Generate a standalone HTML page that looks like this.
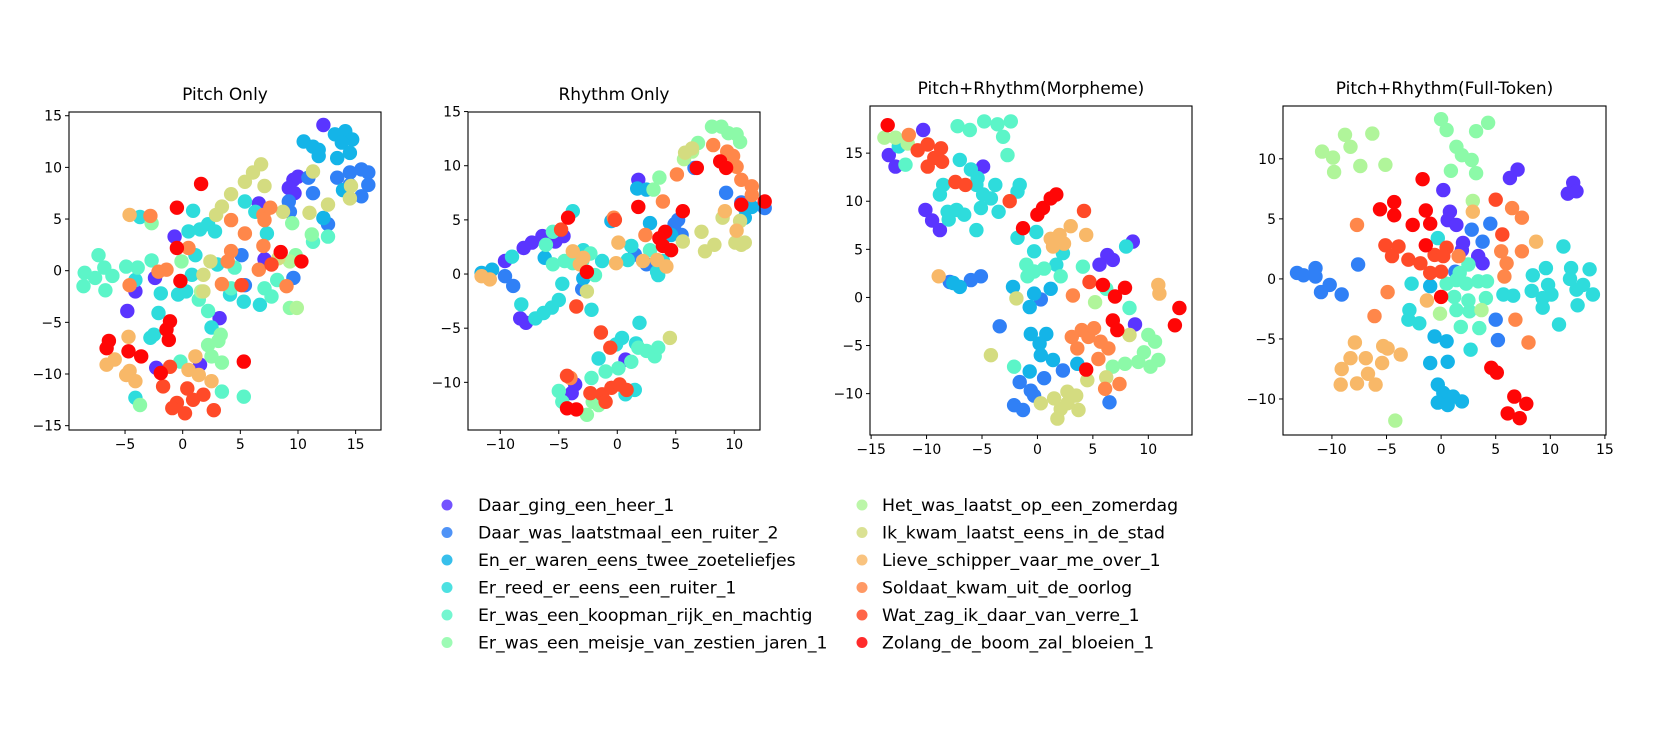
<!DOCTYPE html>
<html><head><meta charset="utf-8">
<style>
html,body{margin:0;padding:0;background:#fff;}
svg{display:block;font-family:"DejaVu Sans","Liberation Sans",sans-serif;}
</style></head>
<body>
<svg id="fig" width="1664" height="736" viewBox="0 0 1664 736" xmlns="http://www.w3.org/2000/svg"></svg>
<script>
const categories = ["Daar_ging_een_heer_1","Daar_was_laatstmaal_een_ruiter_2","En_er_waren_eens_twee_zoeteliefjes","Er_reed_er_eens_een_ruiter_1","Er_was_een_koopman_rijk_en_machtig","Er_was_een_meisje_van_zestien_jaren_1","Het_was_laatst_op_een_zomerdag","Ik_kwam_laatst_eens_in_de_stad","Lieve_schipper_vaar_me_over_1","Soldaat_kwam_uit_de_oorlog","Wat_zag_ik_daar_van_verre_1","Zolang_de_boom_zal_bloeien_1"];
const colors = ["#5a35ff","#3080f6","#14b4e8","#2edcdc","#5cf5c8","#8cfaa8","#b0f59a","#d4dc80","#f8b868","#ff874a","#ff4a28","#ff0606"];
const titles = ["Pitch Only","Rhythm Only","Pitch+Rhythm(Morpheme)","Pitch+Rhythm(Full-Token)"];
const xTicks = [[-5,0,5,10,15],[-10,-5,0,5,10],[-15,-10,-5,0,5,10],[-10,-5,0,5,10,15]];
const yTicks = [[-15,-10,-5,0,5,10,15],[-10,-5,0,5,10,15],[-10,-5,0,5,10,15],[-10,-5,0,5,10]];

const pitchOnly = [
 [[12.2,14.1],[9.6,8.8],[9.2,8.0],[9.7,7.5],[6.6,6.5],[-0.7,3.3],[-2.4,-0.7],[-4.1,-2.0],[-4.8,-3.9],[3.2,-4.6],[-2.3,-9.4],[1.5,-9.1],[7.1,1.1],[10.0,9.1]],
 [[13.4,9.0],[14.5,9.5],[15.5,9.8],[16.1,9.5],[16.1,8.3],[15.5,7.2],[11.3,7.5],[10.9,9.0],[9.2,6.7],[12.6,4.5],[5.1,1.5],[9.6,-0.7],[5.4,-1.4],[14.5,8.3],[9.3,5.7]],
 [[10.5,12.5],[11.3,12.0],[11.8,11.7],[11.8,11.1],[13.4,10.9],[13.2,13.2],[14.1,13.5],[14.7,12.7],[13.8,12.4],[14.5,11.4],[12.2,5.1],[13.9,7.8]],
 [[5.4,6.7],[6.3,5.7],[0.9,5.8],[0.5,3.8],[1.5,4.0],[2.2,4.5],[2.8,3.8],[1.1,1.5],[0.8,-0.4],[0.3,-2.0],[-0.4,-2.3],[-1.9,-2.2],[-2.1,-4.1],[-2.5,-6.2],[-2.8,-6.5],[-4.1,-0.9],[4.1,-2.3],[5.3,-3.0],[6.7,-3.3],[2.5,-5.5],[-4.1,-12.3],[7.3,3.6],[-3.7,5.2],[3.0,0.6]],
 [[-7.3,1.5],[-6.8,0.3],[-8.5,-0.2],[-8.6,-1.5],[-7.6,-0.7],[-6.1,-0.5],[-6.7,-1.9],[-4.9,0.4],[-3.9,0.3],[-2.7,1.0],[1.4,-2.8],[2.2,-3.9],[-0.2,-8.8],[4.5,0.3],[7.1,-1.7],[7.7,-2.5],[8.2,-0.9],[3.4,-11.7],[5.3,-12.2],[12.6,3.3],[11.3,2.8],[4.2,-1.7]],
 [[-2.7,4.6],[-0.1,0.9],[3.3,-6.2],[2.2,-7.2],[2.5,-8.3],[3.4,-8.9],[-3.7,-13.0],[9.3,-3.6],[9.5,4.6],[9.8,1.5],[11.2,3.5],[3.1,-6.8]],
 [[9.3,0.9],[9.9,-3.6],[1.6,-2.0]],
 [[6.8,10.3],[6.1,9.5],[5.4,8.6],[7.1,8.2],[4.2,7.4],[3.4,6.2],[2.9,5.4],[8.7,5.7],[11.0,5.6],[11.3,9.6],[12.6,6.4],[14.6,8.2],[14.5,7.0],[2.4,0.9],[1.8,-0.4],[1.8,-2.0],[8.3,1.2]],
 [[-4.6,5.4],[-4.7,-6.4],[-6.6,-9.1],[-5.9,-8.6],[-4.9,-10.1],[-4.1,-10.7],[-4.6,-9.7],[1.1,-8.3],[0.5,-9.6],[1.4,-10.1],[2.5,-10.7]],
 [[-2.8,5.3],[-4.6,-1.4],[-2.1,-0.1],[-1.4,0.1],[0.5,2.2],[4.2,4.9],[5.4,3.6],[4.2,1.9],[3.9,0.9],[3.4,-1.3],[6.6,0.1],[7.0,2.4],[7.0,5.4],[7.6,6.1],[7.1,4.9],[9.0,-1.5]],
 [[7.7,0.6],[5.1,-1.4],[-1.1,-9.3],[-1.7,-11.2],[0.4,-11.4],[-0.5,-12.8],[0.2,-13.8],[0.9,-12.5],[1.8,-12.0],[2.7,-13.5],[-0.9,-13.3]],
 [[1.6,8.4],[-0.5,6.1],[-0.5,2.2],[-0.2,-1.0],[-1.1,-4.9],[-1.4,-5.7],[-1.2,-6.7],[-6.4,-6.8],[-6.6,-7.5],[-4.7,-7.8],[-3.6,-8.3],[-1.9,-9.9],[5.3,-8.8],[8.5,1.8],[10.3,0.9]]
];
const rhythmOnly = [
 [[1.8,8.7],[-9.6,1.2],[-8.0,2.4],[-7.3,2.9],[-6.4,3.5],[-5.3,3.0],[-4.6,3.5],[-8.3,-4.1],[-7.8,-4.5],[-3.6,-10.2],[-3.9,-11.0],[0.7,-7.9]],
 [[-9.6,-0.2],[-8.9,-1.1],[5.2,5.0],[4.9,4.6],[9.3,7.5],[5.5,3.6],[1.5,1.8],[10.6,6.6],[12.6,6.1],[2.5,0.9],[-3.0,-1.4],[6.6,9.8]],
 [[-11.6,0.1],[-10.7,0.4],[1.7,7.9],[2.5,7.8],[2.8,4.7],[-0.5,4.9],[-6.2,1.5],[10.9,5.2],[11.5,6.2],[10.9,6.1],[4.6,3.6],[-2.9,-0.4]],
 [[-9.0,1.6],[-8.2,-2.8],[-7.0,-4.1],[-6.3,-3.6],[-5.6,-3.1],[-5.0,-2.4],[-4.7,-0.9],[-2.9,2.2],[-1.3,1.2],[-2.2,-3.3],[1.2,2.6],[3.5,-0.1],[3.4,0.2],[0.9,1.3],[1.9,-4.5],[0.4,-5.9],[-0.1,-6.5],[-1.6,-7.8],[1.6,-6.4],[1.5,-10.7],[0.7,-11.1],[-3.8,5.8],[3.9,1.2]],
 [[-5.5,3.9],[-6.1,2.7],[-5.5,0.9],[-4.5,1.2],[-3.8,1.0],[-2.3,1.9],[-1.9,-0.1],[1.8,-6.8],[2.5,-7.1],[3.2,-7.6],[3.5,-6.8],[1.2,-8.1],[0.1,-8.7],[-1.0,-9.0],[-2.2,-9.6],[-5.0,-10.8],[-4.7,-11.8],[2.8,2.2],[-3.0,1.2]],
 [[8.1,13.6],[8.9,13.6],[9.5,13.0],[10.2,12.9],[10.5,12.2],[6.9,12.1],[3.6,8.9],[3.1,7.8],[-2.1,-11.8],[-2.6,-13.0],[-1.6,-12.1]],
 [[6.4,11.3],[5.7,10.6]],
 [[5.8,11.2],[6.4,11.6],[9.0,5.2],[10.5,4.9],[10.1,2.9],[10.6,2.7],[10.9,2.9],[5.6,3.0],[7.2,3.9],[7.5,2.1],[8.3,2.7],[-2.6,-1.6],[4.5,-5.9]],
 [[-11.6,-0.2],[-10.9,-0.5],[-3.8,2.1],[-2.9,1.5],[-3.2,0.9],[0.1,2.9],[-0.1,1.0],[2.2,1.2],[3.4,1.3],[4.2,0.7],[9.2,5.8],[10.2,4.0]],
 [[5.1,9.2],[8.2,11.9],[9.4,11.3],[9.9,10.9],[10.2,9.9],[10.6,8.7],[11.5,8.1],[11.5,7.3],[3.9,6.7],[2.4,3.6],[-0.3,5.2],[-4.0,-9.6]],
 [[-4.8,4.1],[-3.5,-3.0],[-1.4,-5.4],[-0.6,-6.8],[-4.3,-9.4],[-2.3,-11.0],[-1.3,-11.1],[-0.5,-10.5],[0.2,-10.2],[0.8,-10.7],[-1.0,-11.8],[-0.2,5.0]],
 [[-4.2,5.2],[-2.6,0.2],[1.8,6.2],[5.6,5.8],[6.8,9.8],[8.8,10.4],[9.3,9.8],[10.6,6.4],[12.6,6.7],[4.1,3.9],[3.6,3.3],[3.9,2.6],[4.6,2.2],[-4.3,-12.4],[-3.5,-12.5]]
];
const morpheme = [
 [[-10.3,17.4],[-13.4,14.8],[-12.8,13.6],[-4.9,13.6],[-10.1,9.1],[-9.5,8.0],[-8.8,7.0],[8.6,5.8],[6.3,4.4],[5.6,3.4],[6.8,3.9],[8.8,-2.8]],
 [[-7.9,1.6],[-6.0,1.8],[-5.1,2.2],[-3.4,-3.0],[0.3,-0.2],[2.3,-7.6],[0.6,-8.4],[-1.6,-8.8],[-0.6,-9.7],[-2.1,-11.2],[-1.3,-11.7],[6.5,-10.9],[-0.3,-10.2]],
 [[-7.6,1.5],[-7.0,1.1],[-2.2,1.1],[-0.7,-1.0],[-0.3,0.4],[1.2,0.9],[-0.6,-3.8],[0.8,-3.8],[0.2,-4.8],[0.3,-6.0],[1.4,-6.5],[-0.7,-7.7],[3.6,-6.9]],
 [[-12.5,15.7],[-7.0,14.3],[-6.0,13.3],[-8.5,11.7],[-8.8,10.7],[-8.1,8.9],[-7.3,9.1],[-6.6,8.6],[-8.0,8.1],[-5.5,11.7],[-4.9,10.7],[-5.1,9.3],[-3.8,11.7],[-4.2,10.3],[-3.5,8.9],[-1.6,11.7],[-1.8,11.0],[-5.5,7.0],[-1.8,6.2],[-0.1,6.8],[-0.3,4.8],[2.3,4.6],[1.7,3.4],[8.0,5.3],[-5.4,12.4]],
 [[-7.2,17.8],[-6.1,17.4],[-4.8,18.3],[-3.6,18.0],[-2.4,18.3],[-3.1,16.7],[-2.7,14.8],[-11.9,13.8],[-1.0,3.4],[-0.3,2.7],[0.6,3.0],[-0.9,2.2],[2.1,2.2],[4.1,3.2],[8.3,-1.1],[-2.1,-7.2],[6.2,0.9]],
 [[10.0,-3.9],[10.6,-4.6],[9.6,-5.7],[10.9,-6.5],[9.1,-6.7],[7.9,-6.9],[6.8,-7.2],[10.2,-7.2]],
 [[-13.8,16.6],[-12.8,16.6],[-11.7,16.0],[5.2,-0.5]],
 [[-1.9,-0.1],[-4.2,-6.0],[4.5,-8.6],[6.2,-8.3],[8.3,-3.9],[0.3,-11.0],[1.5,-10.5],[2.7,-9.8],[3.5,-10.2],[2.1,-11.6],[1.8,-12.6],[3.7,-11.7],[2.7,-11.0]],
 [[-8.9,2.2],[1.2,6.1],[2.0,6.5],[3.0,7.4],[2.4,5.6],[1.4,5.3],[4.4,6.5],[10.9,1.3],[11.0,0.4]],
 [[-11.6,16.9],[3.2,0.2],[4.0,-3.4],[3.1,-4.1],[4.6,-4.1],[3.6,-5.3],[5.1,-3.2],[5.7,-4.6],[6.4,-5.3],[5.5,-6.4],[6.1,-9.5],[7.4,-9.0]],
 [[-10.8,15.3],[-9.9,15.9],[-8.7,15.5],[-9.3,14.5],[-8.6,14.1],[-9.9,13.6],[-7.4,12.0],[-6.5,11.7],[-2.5,10.0],[4.2,9.0],[4.7,1.6]],
 [[-13.5,17.9],[-1.3,7.2],[0.0,8.6],[0.5,9.3],[1.2,10.3],[1.7,10.7],[5.9,1.3],[7.0,0.1],[7.9,1.0],[6.8,-2.4],[7.2,-3.4],[4.4,-7.5],[12.8,-1.1],[12.4,-2.9]]
];
const fullToken = [
 [[7.0,9.1],[6.3,8.4],[12.1,8.0],[11.6,7.1],[12.4,7.3],[0.2,7.4],[0.8,5.6],[0.6,4.9],[1.4,4.5],[2.0,3.0],[1.9,2.4],[3.4,1.9],[3.8,1.3]],
 [[-13.2,0.5],[-12.6,0.3],[-11.5,0.9],[-11.5,0.2],[-11.0,-1.1],[-10.2,-0.5],[-9.1,-1.3],[-7.6,1.2],[4.5,4.6],[2.8,4.1],[3.8,3.1],[1.3,0.6],[5.0,-3.4],[5.2,-5.1]],
 [[-1.0,-0.6],[-0.6,-4.8],[0.5,-5.2],[-1.0,-7.0],[0.6,-6.9],[-0.3,-8.8],[0.2,-9.5],[-0.3,-10.3],[0.6,-10.5],[1.9,-10.2],[1.1,-9.8]],
 [[-0.3,3.4],[-2.7,-0.4],[-2.9,-2.6],[-3.0,-3.4],[-2.0,-3.7],[2.7,-5.9],[5.7,-1.3],[6.6,-1.4],[8.4,0.3],[9.6,0.9],[9.8,-0.5],[8.3,-1.0],[9.3,-1.6],[10.1,-1.3],[9.3,-2.4],[11.2,2.7],[11.9,0.9],[13.6,0.8],[11.8,0.0],[13.0,-0.5],[12.4,-0.9],[13.9,-1.3],[12.5,-2.2],[10.8,-3.8]],
 [[2.5,1.2],[0.5,-0.4],[1.4,-0.1],[2.3,-0.4],[3.4,-0.2],[4.2,-0.2],[1.2,-1.5],[2.5,-1.8],[4.1,-1.6],[1.4,-2.6],[2.6,-2.7],[1.8,-4.0],[3.5,-4.1],[1.7,0.5]],
 [[0.0,13.3],[0.5,12.4],[3.2,12.3],[4.3,13.0],[1.4,11.0],[1.9,10.3],[2.8,9.9],[3.2,8.8],[0.9,9.0]],
 [[2.9,6.5],[-0.1,-2.9],[3.7,-2.6],[-4.2,-11.8],[-10.9,10.6],[-9.9,10.1],[-9.8,8.9],[-8.8,12.0],[-8.3,11.0],[-6.3,12.1],[-7.4,9.4],[-5.1,9.5]],
 [],
 [[2.9,5.6],[8.7,3.1],[-1.3,-1.8],[-7.9,-5.3],[-8.3,-6.6],[-6.9,-6.6],[-9.1,-7.5],[-9.2,-8.8],[-7.7,-8.7],[-6.7,-7.9],[-6.0,-8.8],[-5.4,-7.0],[-5.3,-5.6],[-4.9,-5.8],[-3.7,-6.3]],
 [[-7.7,4.5],[-4.9,-1.1],[-6.1,-3.1],[1.6,1.9],[5.5,2.3],[6.0,1.3],[5.8,0.2],[7.4,2.3],[6.5,5.9],[7.4,5.1],[6.8,-3.4],[8.0,-5.3]],
 [[5.0,6.6],[5.6,3.7],[-5.1,2.8],[-3.9,2.7],[-4.5,1.9],[-3.0,1.6],[-1.9,1.3],[-0.6,2.0],[0.5,2.6],[-1.0,0.5],[0.0,0.6],[0.2,1.9]],
 [[-1.7,8.3],[-5.6,5.8],[-4.3,6.4],[-4.3,5.3],[-1.4,5.7],[-2.6,4.5],[-1.0,4.6],[-1.4,2.8],[0.0,-1.5],[4.6,-7.4],[5.1,-7.8],[6.7,-9.8],[7.8,-10.4],[6.1,-11.2],[7.2,-11.6]]
];
const panelData = [pitchOnly, rhythmOnly, morpheme, fullToken];
const panelNames = ["pitch-only","rhythm-only","pitch-rhythm-morpheme","pitch-rhythm-full-token"];

const frames = [
 {l:69,r:381,t:112,b:430,x0:-9.86,x1:17.2,y0:-15.42,y1:15.36,ty:100},
 {l:468,r:760,t:112,b:430,x0:-12.76,x1:12.2,y0:-14.4,y1:14.96,ty:100},
 {l:870,r:1192,t:106,b:435,x0:-15.1,x1:13.94,y0:-14.3,y1:19.9,ty:94},
 {l:1283,r:1606,t:106,b:435,x0:-14.48,x1:15.1,y0:-13.0,y1:14.4,ty:94}
];
const NS = "http://www.w3.org/2000/svg";
const svg = document.getElementById('fig');
function mk(tag, attrs, parent){
  const e = document.createElementNS(NS, tag);
  for (const k in attrs) e.setAttribute(k, attrs[k]);
  (parent||svg).appendChild(e);
  return e;
}
function fmt(v){ return v < 0 ? "\u2212" + Math.abs(v) : String(v); }

frames.forEach((f, pi) => {
  const g = mk('g', {});
  
  
  const sx = v => f.l + (v - f.x0) / (f.x1 - f.x0) * (f.r - f.l);
  const sy = v => f.b - (v - f.y0) / (f.y1 - f.y0) * (f.b - f.t);
  const title = mk('text', {x:(f.l+f.r)/2, y:f.ty, 'text-anchor':'middle', 'font-size':'17', fill:'#000'}, g);
  title.textContent = titles[pi];
  
  
  const pg = mk('g', {}, g);
  
  
  panelData[pi].forEach((cls, ci) => {
    cls.forEach(p => {
      const c = mk('circle', {cx:sx(p[0]).toFixed(1), cy:sy(p[1]).toFixed(1), r:7.2, fill:colors[ci]}, pg);
      
      
    });
  });
  const fr = mk('rect', {x:f.l, y:f.t, width:f.r-f.l, height:f.b-f.t, fill:'none', stroke:'#000', 'stroke-width':'1.1'}, g);
  
  
  xTicks[pi].forEach(v => {
    const x = sx(v);
    mk('line', {x1:x, x2:x, y1:f.b, y2:f.b+4, stroke:'#000', 'stroke-width':'1'}, g);
    const t = mk('text', {x:x, y:f.b+19, 'text-anchor':'middle', 'font-size':'14', fill:'#000'}, g);
    t.textContent = fmt(v);
    
    
  });
  yTicks[pi].forEach(v => {
    const y = sy(v);
    mk('line', {x1:f.l-4, x2:f.l, y1:y, y2:y, stroke:'#000', 'stroke-width':'1'}, g);
    const t = mk('text', {x:f.l-7, y:y+5, 'text-anchor':'end', 'font-size':'14', fill:'#000'}, g);
    t.textContent = fmt(v);
    
    
  });
});

const lg = mk('g', {});


categories.forEach((name, i) => {
  const col = Math.floor(i / 6), row = i % 6;
  const mx = col === 0 ? 447 : 862;
  const tx = col === 0 ? 478 : 882;
  const y = 505 + row * 27.5;
  const e = mk('g', {}, lg);
  
  
  mk('circle', {cx:mx, cy:y, r:5.5, fill:colors[i], 'fill-opacity':'0.85'}, e);
  const t = mk('text', {x:tx, y:y+6, 'font-size':'17.3', fill:'#000'}, e);
  t.textContent = name;
});
</script>
</body></html>
